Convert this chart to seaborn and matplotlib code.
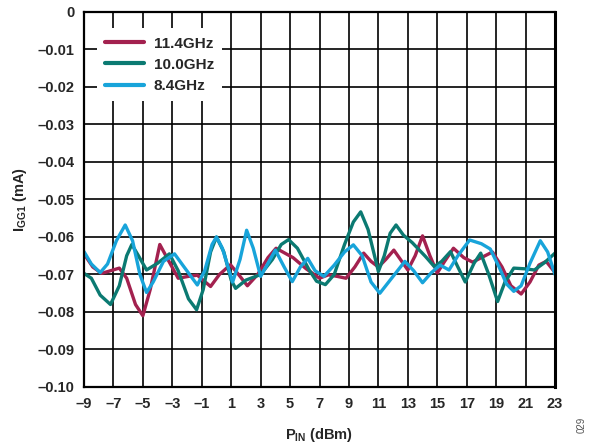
import matplotlib
matplotlib.use("Agg")
import matplotlib.pyplot as plt
import numpy as np
import pandas as pd
import seaborn as sns

# values (PIN in dBm, IGG1 in mA)
x_114 = [-9, -8.4, -7.8, -7.2, -6.6, -6.1, -5.5, -5.0, -4.5, -3.85, -3.3, -2.6,
         -1.9, -1.3, -0.4, 0.2, 0.95, 1.5, 2.1, 2.8, 3.5, 4.05, 4.6, 5.2, 6.1,
         7.0, 7.6, 8.2, 8.8, 9.4, 10.0, 10.5, 11.0, 11.5, 12.05, 12.5, 13.0,
         13.5, 14.0, 14.5, 15.0, 15.5, 16.1, 16.8, 17.4, 18.0, 18.75, 19.4,
         20.0, 20.7, 21.3, 21.9, 22.4, 23.0]
y_114 = [-0.0645, -0.0680, -0.0697, -0.0690, -0.0683, -0.0710, -0.0780, -0.0810,
         -0.0740, -0.0620, -0.0660, -0.0710, -0.0705, -0.0702, -0.0732, -0.0700,
         -0.0674, -0.0700, -0.0730, -0.0700, -0.0655, -0.0630, -0.0642, -0.0655,
         -0.0685, -0.0710, -0.0701, -0.0705, -0.0710, -0.0680, -0.0643, -0.0665,
         -0.0680, -0.0660, -0.0635, -0.0660, -0.0688, -0.0650, -0.0597, -0.0650,
         -0.0696, -0.0665, -0.0630, -0.0655, -0.0667, -0.0655, -0.0640, -0.0680,
         -0.0730, -0.0752, -0.0720, -0.0675, -0.0665, -0.0695]

x_100 = [-9, -8.5, -7.9, -7.2, -6.6, -6.1, -5.75, -5.3, -4.75, -4.0, -3.2, -2.6,
         -1.9, -1.35, -0.9, -0.4, 0.0, 0.5, 1.0, 1.3, 2.0, 3.0, 3.8, 4.4, 4.9,
         5.5, 6.3, 6.8, 7.4, 8.0, 8.7, 9.3, 9.8, 10.3, 11.0, 11.4, 11.8, 12.2,
         12.7, 13.3, 14.2, 14.8, 15.3, 15.9, 16.4, 16.9, 17.5, 17.95, 18.5, 19.1,
         19.6, 20.2, 21.0, 21.6, 22.3, 23.0]
y_100 = [-0.0697, -0.0710, -0.0755, -0.0780, -0.0730, -0.0650, -0.0620, -0.0650,
         -0.0688, -0.0670, -0.0645, -0.0690, -0.0765, -0.0794, -0.0740, -0.0640,
         -0.0600, -0.0640, -0.0715, -0.0737, -0.0715, -0.0700, -0.0660, -0.0620,
         -0.0607, -0.0630, -0.0688, -0.0718, -0.0727, -0.0700, -0.0620, -0.0560,
         -0.0533, -0.0580, -0.0692, -0.0650, -0.0590, -0.0568, -0.0595, -0.0615,
         -0.0652, -0.0679, -0.0665, -0.0639, -0.0680, -0.0720, -0.0670, -0.0643,
         -0.0700, -0.0772, -0.0720, -0.0683, -0.0685, -0.0688, -0.0668, -0.0643]

x_84 = [-9, -8.5, -7.9, -7.4, -6.8, -6.2, -5.7, -5.2, -4.75, -4.3, -3.6, -2.85,
        -2.2, -1.3, -0.8, -0.3, 0.0, 0.4, 1.1, 1.6, 2.05, 2.5, 3.0, 3.5, 4.0,
        4.6, 5.15, 5.7, 6.2, 6.7, 7.3, 8.0, 8.7, 9.3, 9.9, 10.5, 11.1, 11.8,
        12.8, 13.4, 14.0, 14.6, 15.2, 15.8, 16.4, 17.2, 18.0, 18.6, 19.2, 19.7,
        20.2, 20.7, 21.3, 22.0, 22.5, 23.0]
y_84 = [-0.0639, -0.0672, -0.0695, -0.0672, -0.0610, -0.0568, -0.0610, -0.0700,
        -0.0748, -0.0720, -0.0665, -0.0645, -0.0680, -0.0728, -0.0690, -0.0620,
        -0.0600, -0.0630, -0.0720, -0.0660, -0.0582, -0.0630, -0.0705, -0.0670,
        -0.0635, -0.0680, -0.0719, -0.0680, -0.0657, -0.0690, -0.0705, -0.0675,
        -0.0640, -0.0621, -0.0650, -0.0720, -0.0750, -0.0715, -0.0665, -0.0690,
        -0.0722, -0.0695, -0.0675, -0.0688, -0.0650, -0.0608, -0.0618, -0.0632,
        -0.0680, -0.0725, -0.0745, -0.0730, -0.0670, -0.0610, -0.0640, -0.0700]

labels = ["11.4GHz", "10.0GHz", "8.4GHz"]
colors = ["#a3214f", "#0b7a72", "#18a4da"]
x_ticks = list(range(-9, 24, 2))
y_ticks = [0, -0.01, -0.02, -0.03, -0.04, -0.05, -0.06, -0.07, -0.08, -0.09, -0.10]

df = pd.concat([
    pd.DataFrame({"pin": x_114, "igg": y_114, "freq": labels[0]}),
    pd.DataFrame({"pin": x_100, "igg": y_100, "freq": labels[1]}),
    pd.DataFrame({"pin": x_84, "igg": y_84, "freq": labels[2]}),
])

sns.set_style("white")
plt.rcParams["font.family"] = ["Liberation Sans", "DejaVu Sans"]
plt.rcParams["font.weight"] = "bold"
plt.rcParams["mathtext.fontset"] = "custom"
plt.rcParams["mathtext.rm"] = "Liberation Sans:bold"
plt.rcParams["mathtext.default"] = "rm"

fig = plt.figure(figsize=(5.89, 4.44), dpi=100)
ax = fig.add_axes([0.1426, 0.1284, 0.7997, 0.8446])

sns.lineplot(data=df, x="pin", y="igg", hue="freq", palette=dict(zip(labels, colors)),
             estimator=None, linewidth=2.4, ax=ax, solid_joinstyle="round",
             solid_capstyle="round")

ax.set_xlim(-9, 23)
ax.set_ylim(-0.10, 0)
ax.set_xticks(x_ticks)
ax.set_xticklabels([str(v).replace("-", "\u2013") for v in x_ticks])
ax.set_yticks(y_ticks)
ax.set_yticklabels(["0"] + [f"{v:.2f}".replace("-", "\u2013") for v in y_ticks[1:]])
ax.tick_params(length=0, labelsize=10.5, pad=7)
ax.grid(True, color="black", linewidth=1.2)
for s in ax.spines.values():
    s.set_color("black")
    s.set_linewidth(1.6)
ax.spines["right"].set_linewidth(2.2)

ax.set_xlabel("P$_{IN}$ (dBm)", fontsize=10.5, fontweight="bold", labelpad=11)
ax.set_ylabel("I$_{GG1}$ (mA)", fontsize=10.5, fontweight="bold", labelpad=6)

leg = ax.legend(loc="upper left", bbox_to_anchor=(0.0276, 0.957), frameon=True,
                fancybox=False, borderaxespad=0, borderpad=0.55, handlelength=2.5,
                handletextpad=0.65, labelspacing=0.47, prop={"size": 11, "weight": "bold"})
leg.get_frame().set_facecolor("white")
leg.get_frame().set_edgecolor("none")
leg.get_frame().set_alpha(1)
for line in leg.get_lines():
    line.set_linewidth(3)

fig.text(0.988, 0.025, "029", rotation=90, fontsize=7, color="#555555",
         fontweight="normal", ha="center", va="bottom")

fig.savefig("out.png", dpi=100)
